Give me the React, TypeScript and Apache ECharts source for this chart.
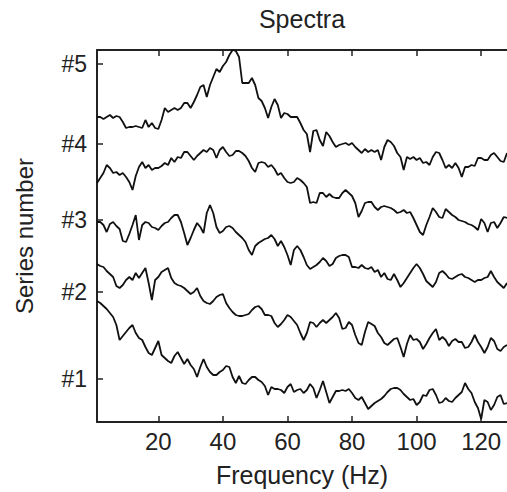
import React, { useEffect, useRef } from "react";
import * as echarts from "echarts";

// Frequency bins (Hz)
const frequencies: number[] = Array.from({ length: 128 }, (_, i) => i + 1);

// Spectra, offset by series (arbitrary units)
const series1: number[] = [
  121, 119, 116, 113, 109, 105, 97, 82, 86, 90,
  94, 97, 89, 84, 82, 75, 69, 67, 74, 81,
  67, 64, 61, 59, 66, 70, 64, 58, 63, 57,
  53, 45, 55, 63, 55, 50, 47, 47, 50, 52,
  56, 55, 45, 39, 46, 39, 38, 42, 45, 45,
  42, 40, 36, 27, 35, 33, 33, 32, 29, 35,
  38, 30, 32, 33, 29, 32, 38, 34, 24, 32,
  41, 30, 19, 25, 31, 31, 32, 31, 33, 29,
  24, 22, 25, 19, 13, 16, 19, 21, 23, 26,
  30, 33, 34, 34, 32, 28, 25, 22, 23, 17,
  20, 27, 26, 32, 33, 27, 19, 20, 24, 21,
  20, 24, 27, 30, 39, 33, 29, 20, 14, 3,
  22, 20, 12, 17, 25, 27, 18, 19,
];
const series2: number[] = [
  158, 156, 155, 151, 148, 145, 136, 134, 137, 142,
  145, 142, 149, 144, 149, 154, 139, 122, 142, 145,
  150, 152, 154, 144, 139, 137, 136, 134, 131, 128,
  130, 134, 126, 121, 119, 118, 121, 125, 127, 128,
  119, 114, 110, 107, 106, 106, 107, 108, 112, 115,
  116, 113, 107, 107, 106, 99, 95, 98, 102, 107,
  105, 101, 97, 89, 82, 89, 100, 99, 95, 99,
  102, 99, 102, 105, 109, 104, 93, 94, 100, 97,
  87, 79, 77, 90, 100, 98, 96, 89, 85, 79,
  77, 80, 83, 84, 75, 65, 78, 87, 82, 83,
  80, 73, 78, 84, 89, 93, 82, 85, 82, 76,
  81, 83, 80, 80, 74, 75, 80, 87, 80, 75,
  69, 75, 84, 81, 73, 71, 75, 77,
];
const series3: number[] = [
  200, 200, 197, 190, 198, 200, 196, 193, 181, 180,
  188, 197, 207, 182, 197, 200, 199, 195, 194, 192,
  196, 199, 200, 204, 207, 207, 200, 189, 177, 184,
  192, 199, 195, 189, 209, 217, 209, 195, 189, 191,
  195, 196, 194, 190, 187, 184, 180, 172, 167, 176,
  179, 181, 183, 184, 187, 183, 176, 181, 175, 167,
  157, 172, 176, 172, 165, 157, 153, 155, 157, 160,
  164, 161, 156, 158, 164, 166, 167, 167, 165, 155,
  155, 154, 157, 154, 153, 155, 150, 152, 145, 149,
  143, 142, 148, 142, 135, 139, 144, 149, 154, 158,
  154, 148, 141, 138, 135, 140, 149, 151, 148, 144,
  143, 145, 147, 148, 145, 144, 142, 140, 142, 142,
  144, 145, 151, 145, 140, 137, 134, 139,
];
const series4: number[] = [
  239, 244, 249, 257, 254, 249, 250, 247, 249, 245,
  240, 232, 246, 255, 260, 254, 257, 252, 254, 254,
  256, 259, 257, 264, 260, 265, 264, 270, 270, 266,
  262, 266, 269, 272, 270, 274, 272, 264, 272, 275,
  270, 266, 267, 271, 271, 269, 266, 261, 254, 250,
  259, 260, 259, 255, 257, 253, 247, 249, 244, 240,
  239, 240, 244, 242, 239, 235, 219, 220, 219, 229,
  229, 225, 228, 225, 224, 224, 229, 232, 229, 226,
  219, 205, 211, 219, 220, 220, 215, 212, 215, 216,
  215, 214, 212, 209, 210, 212, 209, 210, 204, 197,
  190, 187, 197, 205, 214, 210, 205, 204, 213, 210,
  207, 205, 202, 201, 200, 198, 197, 195, 192, 203,
  199, 190, 199, 200, 194, 199, 205, 204,
];
const series5: number[] = [
  305, 305, 303, 305, 307, 304, 306, 305, 300, 294,
  295, 295, 296, 295, 294, 302, 295, 299, 294, 293,
  302, 314, 310, 312, 314, 312, 314, 319, 319, 314,
  320, 327, 335, 337, 325, 337, 345, 353, 350, 356,
  360, 367, 372, 371, 365, 339, 339, 339, 344, 337,
  324, 321, 314, 304, 315, 323, 317, 304, 309, 308,
  305, 305, 305, 299, 292, 288, 270, 291, 292, 282,
  276, 290, 286, 280, 275, 277, 278, 279, 277, 279,
  275, 272, 269, 273, 270, 272, 270, 272, 262, 275,
  282, 280, 276, 269, 265, 252, 265, 263, 265, 262,
  264, 259, 260, 257, 265, 270, 269, 262, 254, 257,
  254, 259, 254, 245, 255, 255, 257, 256, 264, 264,
  262, 262, 267, 269, 265, 261, 260, 269,
];

const allSeries: number[][] = [series1, series2, series3, series4, series5];
const seriesNames: string[] = ["#1", "#2", "#3", "#4", "#5"];
const seriesTickValues: number[] = [43, 130, 202, 278, 358];
const xTickValues: number[] = [20, 40, 60, 80, 100, 120];

const FONT = '"Liberation Sans", Arial, Helvetica, sans-serif';
const INK = "#222";

export default function App() {
  const ref = useRef<HTMLDivElement>(null);

  useEffect(() => {
    if (!ref.current) return;
    const chart = echarts.init(ref.current, undefined, { renderer: "svg" });
    const axisLine = { show: true, lineStyle: { color: INK, width: 2 } };
    const tickStyle = { color: INK, width: 1.5 };

    chart.setOption({
      animation: false,
      backgroundColor: "#ffffff",
      title: {
        text: "Spectra",
        left: 302,
        top: 6,
        padding: 0,
        textAlign: "center",
        textStyle: { fontFamily: FONT, fontSize: 25, fontWeight: "normal", color: INK },
      },
      grid: { left: 97, top: 50, width: 411, height: 372, containLabel: false },
      xAxis: [
        {
          type: "value",
          min: 1,
          max: 128,
          position: "bottom",
          axisLine,
          axisTick: { show: true, inside: true, length: 6, customValues: xTickValues, lineStyle: tickStyle },
          axisLabel: { customValues: xTickValues, fontFamily: FONT, fontSize: 24, color: INK, margin: 7 },
          splitLine: { show: false },
          name: "Frequency (Hz)",
          nameLocation: "middle",
          nameGap: 40,
          nameTextStyle: { fontFamily: FONT, fontSize: 25, color: INK },
        },
        {
          type: "value",
          min: 1,
          max: 128,
          position: "top",
          axisLine,
          axisTick: { show: true, inside: true, length: 6, customValues: xTickValues, lineStyle: tickStyle },
          axisLabel: { show: false },
          splitLine: { show: false },
        },
      ],
      yAxis: [
        {
          type: "value",
          min: 0,
          max: 372,
          position: "left",
          axisLine,
          axisTick: { show: true, inside: true, length: 6, customValues: seriesTickValues, lineStyle: tickStyle },
          axisLabel: {
            customValues: seriesTickValues,
            fontFamily: FONT,
            fontSize: 23,
            color: INK,
            margin: 10,
            formatter: (v: number) => {
              const i = seriesTickValues.indexOf(v);
              return i >= 0 ? seriesNames[i] : "";
            },
          },
          splitLine: { show: false },
          name: "Series number",
          nameLocation: "middle",
          nameGap: 61,
          nameRotate: 90,
          nameTextStyle: { fontFamily: FONT, fontSize: 24, color: INK },
        },
      ],
      series: allSeries.map((vals, si) => ({
        type: "line",
        name: seriesNames[si],
        xAxisIndex: 0,
        yAxisIndex: 0,
        showSymbol: false,
        symbol: "none",
        lineStyle: { color: "#111", width: 1.8 },
        data: vals.map((v, i) => [frequencies[i], v]),
      })),
    });

    return () => chart.dispose();
  }, []);

  return (
    <div
      ref={ref}
      style={{ position: "fixed", left: 0, top: 0, width: 507, height: 492, background: "#fff" }}
    />
  );
}
